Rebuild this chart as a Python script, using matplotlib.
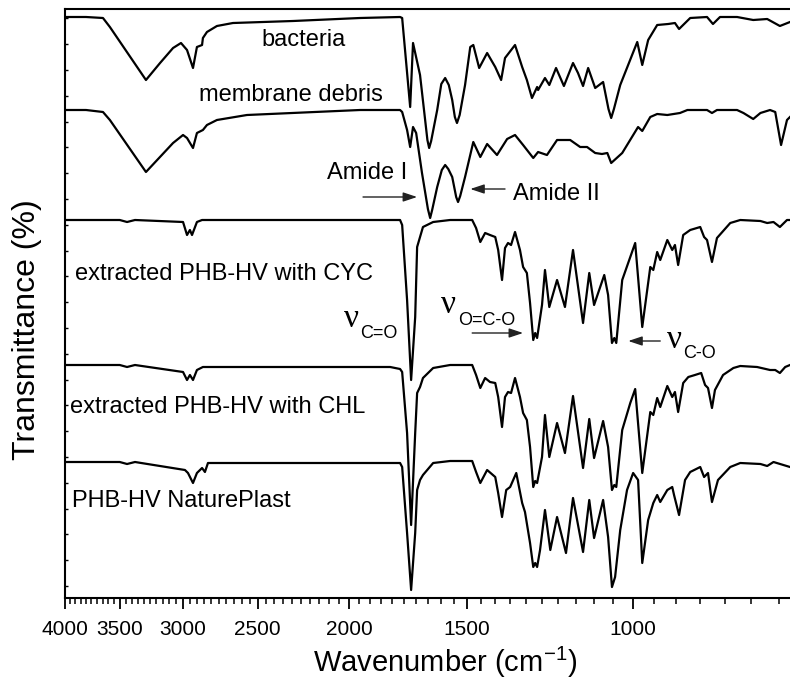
import numpy as np
import matplotlib
matplotlib.use("Agg")
import matplotlib.pyplot as plt
from matplotlib.ticker import FixedLocator, FixedFormatter, NullFormatter

plt.rcParams['font.family'] = ['Liberation Sans', 'DejaVu Sans']
plt.rcParams['mathtext.fontset'] = 'custom'
plt.rcParams['mathtext.rm'] = 'Liberation Sans'
plt.rcParams['mathtext.it'] = 'Liberation Sans'
plt.rcParams['mathtext.bf'] = 'Liberation Sans'

# ---------------- data (wavenumber cm-1, stacked transmittance, arbitrary units) ----------------
bact_wn = [4000, 3800, 3646, 3585, 3283, 3172, 3073, 3014, 2970, 2927, 2899, 2863, 2857, 2829, 2761,
           2655, 2293, 1947, 1766, 1757, 1723, 1711, 1682, 1652, 1645, 1637, 1613, 1597, 1582, 1568,
           1555, 1545, 1537, 1527, 1507, 1488,
           1477, 1456, 1428, 1400, 1380, 1367, 1334, 1311, 1296, 1280, 1264, 1261, 1240, 1227, 1207,
           1184, 1158, 1144, 1130, 1116, 1097, 1076, 1062, 1055, 1048, 1032, 990, 978, 964, 943,
           918, 903, 894, 870, 835, 823, 809, 776, 746, 721, 699, 682]
bact_t = [581, 581, 580, 571, 518, 535, 550, 555, 548, 530, 551, 553, 560, 566, 572,
          575, 577, 580, 581, 580, 491, 555, 523, 458, 450, 457, 488, 514, 520, 513,
          498, 481, 475, 483, 513, 551,
          553, 530, 545, 531, 518, 540, 553, 531, 518, 500, 511, 508, 520, 513, 530,
          512, 535, 525, 512, 530, 510, 516, 489, 480, 489, 513, 556, 533, 558, 573,
          574, 575, 569, 580, 581, 574, 581, 581, 578, 579, 572, 576]

memb_wn = [4000, 3800, 3646, 3585, 3283, 3073, 2999, 2970, 2927, 2899, 2857, 2829, 2761, 2566,
           1947, 1766, 1757, 1736, 1723, 1711, 1698, 1674, 1650, 1641, 1633, 1613, 1595, 1582,
           1570, 1555, 1540, 1533, 1525, 1507,
           1477, 1452, 1428, 1394, 1360, 1334, 1308, 1276, 1261, 1234, 1204, 1166, 1138, 1119,
           1097, 1079, 1065, 1055, 1027, 988, 978, 959, 943, 920, 892, 876, 835, 825, 815, 776,
           764, 746, 733, 716, 707, 697, 687, 682]
memb_t = [488, 488, 486, 478, 426, 455, 463, 460, 450, 465, 468, 473, 478, 483,
          488, 488, 486, 468, 451, 471, 465, 425, 389, 380, 388, 411, 428, 433,
          429, 421, 401, 396, 402, 421,
          456, 441, 454, 443, 459, 463, 453, 440, 446, 443, 458, 458, 451, 451,
          445, 444, 445, 435, 445, 471, 467, 481, 484, 483, 485, 488, 488, 485, 488, 488,
          485, 479, 485, 488, 486, 453, 478, 481]

cyc_wn = [4000, 3500, 3438, 3372, 2999, 2970, 2949, 2934, 2899, 2863, 1766, 1757, 1736, 1719,
          1702, 1694, 1682, 1670, 1629, 1563, 1481, 1467, 1452, 1435, 1418, 1400, 1390, 1377,
          1367, 1357, 1347, 1334, 1318, 1308, 1296, 1286, 1276, 1270, 1264, 1249, 1240, 1227,
          1204, 1181, 1158, 1130, 1113, 1100, 1073, 1063, 1053, 1047, 1042, 1027, 995, 978,
          959, 952, 943, 936, 920, 909, 903, 896, 885, 870, 849, 841, 835, 825, 815, 789,
          770, 733, 721, 710, 699, 687, 682]
cyc_t = [378, 378, 376, 378, 376, 363, 368, 363, 376, 378, 378, 373, 298, 218,
         281, 351, 361, 371, 376, 378, 378, 370, 356, 365, 363, 361, 348, 318,
         350, 355, 353, 366, 348, 331, 325, 295, 258, 265, 260, 293, 328, 291,
         318, 291, 348, 275, 325, 293, 323, 303, 255, 260, 255, 318, 355, 271,
         331, 328, 346, 338, 358, 348, 353, 333, 363, 368, 371, 361, 358, 336, 360, 375,
         378, 377, 375, 376, 371, 378, 378]

chl_wn = [4000, 3500, 3438, 3372, 2999, 2970, 2949, 2927, 2899, 2857, 1809, 1766, 1757, 1736,
          1719, 1702, 1694, 1682, 1670, 1629, 1563, 1481, 1467, 1452, 1435, 1418, 1400, 1390,
          1377, 1367, 1357, 1347, 1334, 1318, 1308, 1296, 1286, 1276, 1270, 1264, 1249, 1240,
          1227, 1204, 1181, 1158, 1130, 1113, 1100, 1076, 1063, 1053, 1047, 1042, 1027, 1007,
          995, 978, 959, 952, 943, 936, 920, 909, 903, 896, 885, 874, 860, 847, 839, 833,
          825, 819, 803, 783, 770, 739, 716, 707, 699, 690, 682]
chl_t = [233, 233, 231, 233, 226, 218, 223, 218, 228, 231, 231, 229, 226, 165,
         73, 165, 205, 211, 220, 230, 233, 233, 223, 210, 220, 216, 215, 201,
         171, 201, 206, 205, 220, 201, 185, 178, 151, 111, 117, 115, 141, 183,
         141, 175, 145, 202, 130, 179, 140, 177, 151, 108, 113, 111, 168, 195,
         209, 125, 186, 183, 200, 191, 212, 201, 206, 186, 215, 221, 223, 225, 213, 210,
         190, 208, 223, 230, 232, 231, 228, 228, 225, 231, 233]

np_wn = [4000, 3500, 3438, 3372, 2985, 2963, 2927, 2899, 2863, 2843, 2822, 1766, 1757, 1736,
         1719, 1702, 1694, 1682, 1670, 1629, 1563, 1481, 1467, 1452, 1428, 1400, 1390, 1377,
         1363, 1350, 1330, 1311, 1302, 1286, 1276, 1270, 1264, 1255, 1240, 1224, 1204, 1178,
         1158, 1130, 1113, 1100, 1076, 1063, 1053, 1045, 1032, 1015, 1000, 988, 978, 964,
         952, 943, 936, 920, 909, 905, 894, 881, 870, 849, 841, 833, 825, 813, 789, 770,
         733, 721, 710, 682]
np_t = [136, 136, 134, 136, 128, 125, 115, 125, 130, 126, 135, 135, 131, 65,
        8, 65, 108, 118, 123, 135, 137, 137, 126, 115, 128, 121, 105, 81,
        108, 111, 125, 95, 86, 55, 31, 35, 31, 48, 88, 48, 81, 45,
        100, 46, 98, 60, 98, 61, 11, 21, 68, 108, 125, 118, 35, 78,
        95, 103, 96, 108, 111, 103, 83, 118, 126, 131, 121, 125, 96, 118, 131, 135,
        134, 132, 136, 131]

x_major = [4000, 3500, 3000, 2500, 2000, 1500, 1000]
x_major_labels = ['4000', '3500', '3000', '2500', '2000', '1500', '1000']

# ---------------- figure ----------------
fig = plt.figure(figsize=(7.9, 6.84), dpi=100)
ax = fig.add_axes([65 / 790, 86 / 684, 728 / 790, 589 / 684])

for wn, t in [(bact_wn, bact_t), (memb_wn, memb_t), (cyc_wn, cyc_t), (chl_wn, chl_t), (np_wn, np_t)]:
    ax.plot(wn, t, color='black', lw=1.6, solid_joinstyle='round')

ax.set_xscale('log')
ax.set_xlim(4000, 677)
ax.set_ylim(0, 589)

ax.xaxis.set_major_locator(FixedLocator(x_major))
ax.xaxis.set_major_formatter(FixedFormatter(x_major_labels))
minors = [v for v in range(700, 4000, 50) if v not in x_major]
ax.xaxis.set_minor_locator(FixedLocator(minors))
ax.xaxis.set_minor_formatter(NullFormatter())
ax.tick_params(axis='x', which='major', direction='out', length=8, width=1.3,
               labelsize=15, pad=8)
ax.tick_params(axis='x', which='minor', direction='out', length=4, width=1.1)

ax.yaxis.set_major_locator(FixedLocator(list(np.arange(12.0, 590, 25.8))))
ax.yaxis.set_minor_locator(FixedLocator([]))
ax.tick_params(axis='y', which='major', direction='in', length=2.5, width=1.0,
               labelleft=False)

for s in ax.spines.values():
    s.set_linewidth(1.5)

ax.set_xlabel('Wavenumber (cm$^{-1}$)', fontsize=21)
ax.xaxis.set_label_coords(0.522, -0.079)
ax.set_ylabel('Transmittance (%)', fontsize=23)
ax.yaxis.set_label_coords(-0.032, 0.455)

fs = 17
ax.text(2237, 558, 'bacteria', ha='center', va='center', fontsize=fs)
ax.text(2304, 503, 'membrane debris', ha='center', va='center', fontsize=fs)
ax.text(1735, 425, 'Amide I', ha='right', va='center', fontsize=fs)
ax.text(1340, 404, 'Amide II', ha='left', va='center', fontsize=fs)
ax.text(3904, 324, 'extracted PHB-HV with CYC', ha='left', va='center', fontsize=fs)
ax.text(3951, 191, 'extracted PHB-HV with CHL', ha='left', va='center', fontsize=fs)
ax.text(3934, 97, 'PHB-HV NaturePlast', ha='left', va='center', fontsize=fs)

arrow_kw = dict(arrowstyle='-|>,head_length=0.6,head_width=0.2', lw=1.0, color='#222222',
                mutation_scale=14, shrinkA=0, shrinkB=0)
ax.annotate('', xy=(1694, 401), xytext=(1933, 401), arrowprops=arrow_kw)
ax.annotate('', xy=(1488, 409), xytext=(1367, 409), arrowprops=arrow_kw)
ax.annotate('', xy=(1308, 265), xytext=(1481, 265), arrowprops=arrow_kw)
ax.annotate('', xy=(1012, 257), xytext=(936, 257), arrowprops=arrow_kw)

nu_kw = dict(fontsize=24, family=['Liberation Serif', 'DejaVu Serif'], va='baseline', ha='right')
sub_kw = dict(fontsize=13, va='baseline', ha='left')
ax.text(1952, 271, '\u03bd', **nu_kw)
ax.text(1947, 260, 'C=O', **sub_kw)
ax.text(1540, 285, '\u03bd', **nu_kw)
ax.text(1532, 273, 'O=C-O', **sub_kw)
ax.text(887, 250, '\u03bd', **nu_kw)
ax.text(885, 240, 'C-O', **sub_kw)

fig.savefig('out.png', dpi=100)
